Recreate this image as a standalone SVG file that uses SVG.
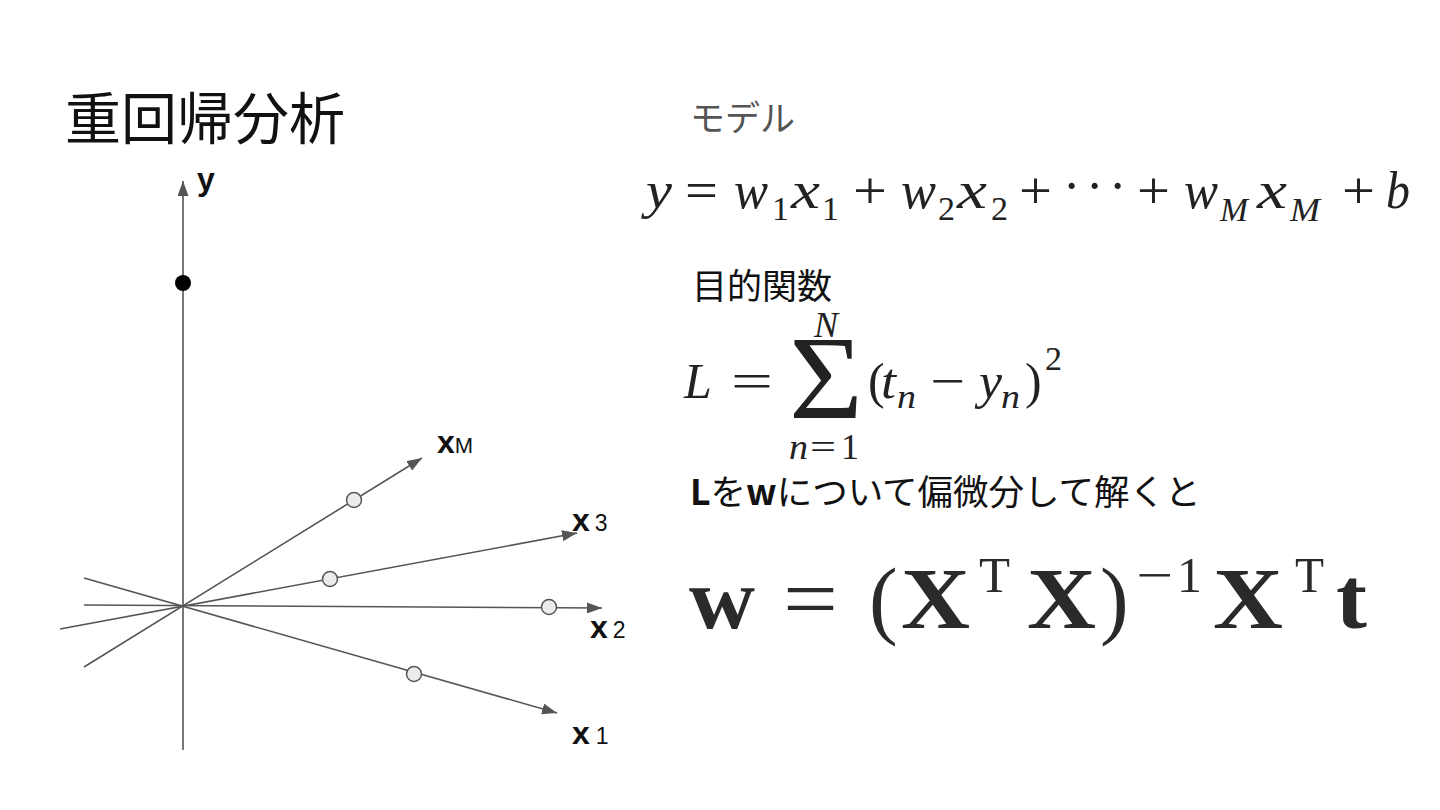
<svg xmlns="http://www.w3.org/2000/svg" width="1440" height="810" viewBox="0 0 1440 810">
<style>
.ax{stroke:#555;stroke-width:1.6;fill:none}
.arr{marker-end:url(#ah)}
.pt{fill:#ebebeb;stroke:#555;stroke-width:1.5}
.jp{font-family:"Noto Sans CJK JP",sans-serif;fill:#111}
.lab{font-family:"Liberation Sans",Arial,sans-serif;fill:#111}
.m{font-family:"Liberation Serif","Times New Roman",serif;fill:#222}
.i{font-style:italic}
.b{font-weight:bold}
</style>
<defs>
<marker id="ah" viewBox="0 0 15 11" refX="15" refY="5.5" markerWidth="15" markerHeight="11" markerUnits="userSpaceOnUse" orient="auto">
<path d="M0,0 L15,5.5 L0,11 z" fill="#555"/>
</marker>
</defs>
<rect width="1440" height="810" fill="#fff"/>
<text id="title" class="jp" x="65" y="139" font-size="56">重回帰分析</text>
<g id="connectors">
<line class="ax arr" x1="183" y1="750" x2="183" y2="181"/>
<line class="ax arr" x1="84" y1="667" x2="422" y2="458"/>
<line class="ax arr" x1="60" y1="629" x2="577" y2="533"/>
<line class="ax arr" x1="84" y1="605" x2="602" y2="608"/>
<line class="ax arr" x1="84" y1="578" x2="557" y2="713"/>
</g>
<g id="point-y"><circle cx="183" cy="283" r="8" fill="#000"/></g>
<g id="point-xM"><circle class="pt" cx="354" cy="500" r="7.5"/></g>
<g id="point-x3"><circle class="pt" cx="330" cy="579" r="7.5"/></g>
<g id="point-x2"><circle class="pt" cx="549" cy="607" r="7.5"/></g>
<g id="point-x1"><circle class="pt" cx="414" cy="674" r="7.5"/></g>
<g id="axis-labels" class="lab">
<text x="197" y="190" font-size="32" font-weight="bold">y</text>
<text x="437" y="453" font-size="32"><tspan font-weight="bold">x</tspan><tspan font-size="22" dx="0">M</tspan></text>
<text x="572" y="531" font-size="32"><tspan font-weight="bold">x</tspan><tspan font-size="23" dx="5">3</tspan></text>
<text x="590" y="638" font-size="32"><tspan font-weight="bold">x</tspan><tspan font-size="23" dx="5">2</tspan></text>
<text x="572" y="744" font-size="32"><tspan font-weight="bold">x</tspan><tspan font-size="23" dx="6">1</tspan></text>
</g>
<text id="model-label" class="jp" x="690" y="131" font-size="35" style="fill:#555">モデル</text>
<g id="formula-model" class="m">
<text y="208" font-size="52"><tspan class="i" x="646" textLength="26" lengthAdjust="spacingAndGlyphs">y</tspan><tspan x="685" textLength="33" lengthAdjust="spacingAndGlyphs">=</tspan><tspan class="i" x="734" textLength="34" lengthAdjust="spacingAndGlyphs">w</tspan><tspan x="772" y="220" font-size="34">1</tspan><tspan class="i" x="791" y="208" textLength="29" lengthAdjust="spacingAndGlyphs">x</tspan><tspan x="822" y="220" font-size="34">1</tspan><tspan x="853" y="208" textLength="34" lengthAdjust="spacingAndGlyphs">+</tspan><tspan class="i" x="901" textLength="35" lengthAdjust="spacingAndGlyphs">w</tspan><tspan x="938" y="220" font-size="34">2</tspan><tspan class="i" x="957" y="208" textLength="30" lengthAdjust="spacingAndGlyphs">x</tspan><tspan x="991" y="220" font-size="34">2</tspan><tspan x="1019" y="208" textLength="33" lengthAdjust="spacingAndGlyphs">+</tspan><tspan x="1063" y="203">·</tspan><tspan x="1086">·</tspan><tspan x="1109">·</tspan><tspan x="1137" y="208" textLength="33" lengthAdjust="spacingAndGlyphs">+</tspan><tspan class="i" x="1184" textLength="34" lengthAdjust="spacingAndGlyphs">w</tspan><tspan class="i" x="1220" y="221" font-size="34" textLength="28" lengthAdjust="spacingAndGlyphs">M</tspan><tspan class="i" x="1257" y="208" textLength="30" lengthAdjust="spacingAndGlyphs">x</tspan><tspan class="i" x="1290" y="221" font-size="34" textLength="30" lengthAdjust="spacingAndGlyphs">M</tspan><tspan x="1342" y="208" textLength="33" lengthAdjust="spacingAndGlyphs">+</tspan><tspan class="i" x="1386" textLength="24" lengthAdjust="spacingAndGlyphs">b</tspan></text>
</g>
<text id="objective-label" class="jp" x="692" y="299" font-size="35">目的関数</text>
<g id="formula-loss" class="m">
<text y="398" font-size="50"><tspan class="i" x="684">L</tspan><tspan x="731" textLength="42" lengthAdjust="spacingAndGlyphs">=</tspan><tspan x="789" y="418" font-size="118" textLength="74" lengthAdjust="spacingAndGlyphs">Σ</tspan><tspan x="868" y="398">(</tspan><tspan class="i" x="881" textLength="15" lengthAdjust="spacingAndGlyphs">t</tspan><tspan class="i" x="897" y="408" font-size="34" textLength="19" lengthAdjust="spacingAndGlyphs">n</tspan><tspan x="930" y="398" textLength="35" lengthAdjust="spacingAndGlyphs">−</tspan><tspan class="i" x="979" textLength="23" lengthAdjust="spacingAndGlyphs">y</tspan><tspan class="i" x="1001" y="408" font-size="34" textLength="19" lengthAdjust="spacingAndGlyphs">n</tspan><tspan x="1025" y="398">)</tspan><tspan x="1045" y="370" font-size="34">2</tspan></text>
<text y="337" font-size="36" class="i" x="814">N</text>
<text y="459" font-size="36"><tspan class="i" x="789" textLength="19" lengthAdjust="spacingAndGlyphs">n</tspan><tspan x="810" textLength="26" lengthAdjust="spacingAndGlyphs">=</tspan><tspan x="841">1</tspan></text>
</g>
<text id="solve-label" class="jp" x="690" y="505" font-size="35.5"><tspan font-weight="bold">L</tspan>を<tspan font-weight="bold">w</tspan>について偏微分して解くと</text>
<g id="formula-solution" class="m" style="fill:#2a2a2a">
<text y="628" font-size="86"><tspan class="b" x="689" textLength="66" lengthAdjust="spacingAndGlyphs">w</tspan><tspan x="783" textLength="55" lengthAdjust="spacingAndGlyphs">=</tspan><tspan x="869">(</tspan><tspan class="b" x="901" textLength="69" lengthAdjust="spacingAndGlyphs">X</tspan><tspan x="979" y="592" font-size="50" textLength="31" lengthAdjust="spacingAndGlyphs">T</tspan><tspan class="b" x="1027" y="628" textLength="69" lengthAdjust="spacingAndGlyphs">X</tspan><tspan x="1100">)</tspan><tspan x="1136" y="592" font-size="50" textLength="37" lengthAdjust="spacingAndGlyphs">−</tspan><tspan x="1177" font-size="50">1</tspan><tspan class="b" x="1213" y="628" textLength="70" lengthAdjust="spacingAndGlyphs">X</tspan><tspan x="1295" y="592" font-size="50" textLength="29" lengthAdjust="spacingAndGlyphs">T</tspan><tspan class="b" x="1336" y="628" textLength="31" lengthAdjust="spacingAndGlyphs">t</tspan></text>
</g>
</svg>
